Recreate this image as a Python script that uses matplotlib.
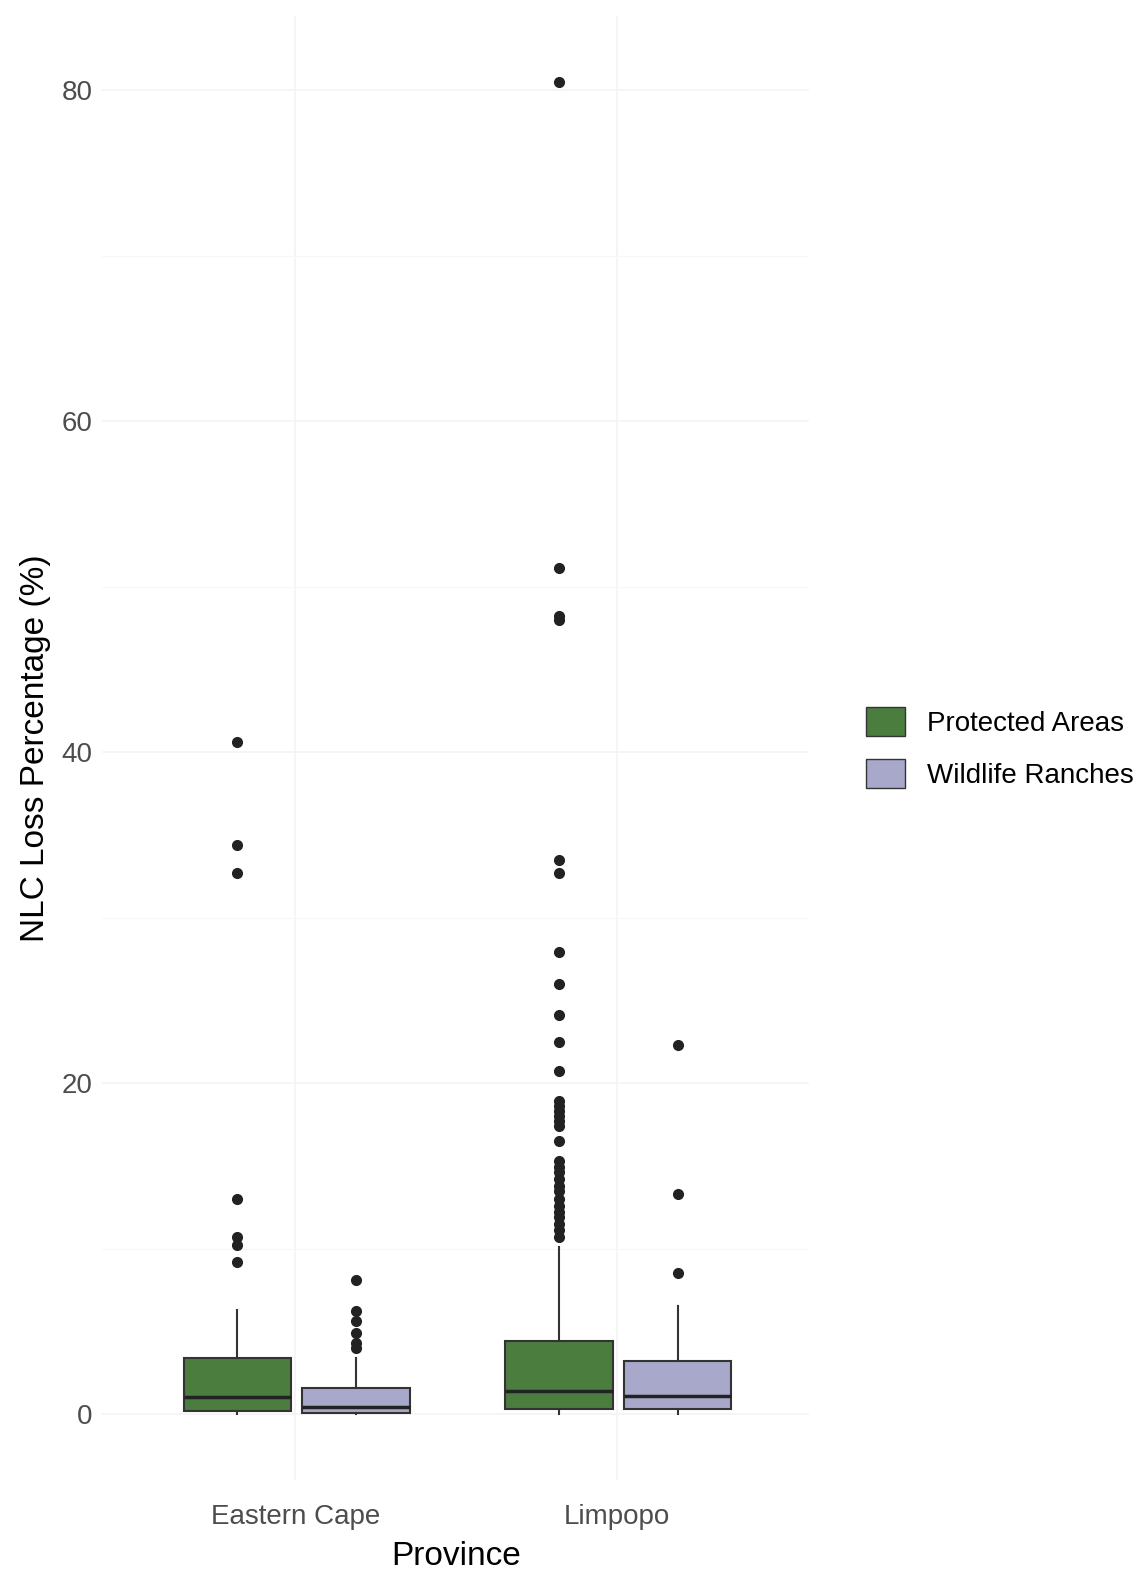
import matplotlib.pyplot as plt
from matplotlib.patches import Patch

plt.rcParams['font.family'] = ['Liberation Sans', 'DejaVu Sans']

# provinces and groups
provinces = ["Eastern Cape", "Limpopo"]
groups = ["Protected Areas", "Wildlife Ranches"]
colors = ["#4b7d3f", "#a8a8cb"]

# box stats: [EC, Limpopo] for each group
q1 = {"Protected Areas": [0.2, 0.3], "Wildlife Ranches": [0.05, 0.3]}
med = {"Protected Areas": [1.0, 1.4], "Wildlife Ranches": [0.4, 1.1]}
q3 = {"Protected Areas": [3.4, 4.4], "Wildlife Ranches": [1.6, 3.2]}
whislo = {"Protected Areas": [0.0, 0.0], "Wildlife Ranches": [0.0, 0.0]}
whishi = {"Protected Areas": [6.3, 10.1], "Wildlife Ranches": [3.4, 6.5]}
fliers = {
    "Protected Areas": [
        [40.6, 34.4, 32.7, 13.0, 10.7, 10.2, 9.2],
        [80.5, 51.1, 48.2, 48.0, 33.5, 32.7, 27.9, 26.0, 24.1, 22.5, 20.7,
         18.9, 18.6, 18.3, 18.0, 17.7, 17.4, 16.5, 15.3, 14.9, 14.6, 14.2,
         13.8, 13.5, 13.0, 12.6, 12.2, 11.9, 11.5, 11.1, 10.7],
    ],
    "Wildlife Ranches": [
        [8.1, 6.2, 5.6, 4.9, 4.3, 4.0],
        [22.3, 13.3, 8.5],
    ],
}

fig = plt.figure(figsize=(11.44, 15.73), dpi=100)
ax = fig.add_axes([0.0895, 0.059, 0.618, 0.931])

offsets = [-0.18, 0.19]
for gi, g in enumerate(groups):
    stats = []
    for pi in range(len(provinces)):
        stats.append({
            "q1": q1[g][pi], "med": med[g][pi], "q3": q3[g][pi],
            "whislo": whislo[g][pi], "whishi": whishi[g][pi],
            "fliers": fliers[g][pi],
        })
    pos = [pi + 1 + offsets[gi] for pi in range(len(provinces))]
    ax.bxp(stats, positions=pos, widths=0.335, patch_artist=True,
           showcaps=False,
           boxprops=dict(facecolor=colors[gi], edgecolor="#333333", linewidth=1.5),
           medianprops=dict(color="#222222", linewidth=2.5),
           whiskerprops=dict(color="#333333", linewidth=1.5),
           flierprops=dict(marker="o", markerfacecolor="#222222",
                           markeredgecolor="#222222", markersize=7))

ax.set_xlim(0.4, 2.6)
ax.set_ylim(-4.0, 84.5)
ax.set_xticks([1, 2])
ax.set_xticklabels(provinces)
ax.set_yticks([0, 20, 40, 60, 80])
ax.set_yticks([10, 30, 50, 70], minor=True)
ax.grid(True, which="major", color="#f3f3f3", linewidth=1.2)
ax.grid(True, which="minor", axis="y", color="#f7f7f7", linewidth=0.8)
ax.set_axisbelow(True)
for s in ax.spines.values():
    s.set_visible(False)
ax.tick_params(axis="both", which="both", length=0, labelsize=20,
               labelcolor="#4d4d4d")
ax.tick_params(axis="x", pad=17)
ax.tick_params(axis="y", pad=7)
ax.set_xlabel("Province", fontsize=24, labelpad=8)
ax.set_ylabel("NLC Loss Percentage (%)", fontsize=24, labelpad=8)

handles = [Patch(facecolor=colors[i], edgecolor="#333333", label=groups[i])
           for i in range(2)]
fig.legend(handles=handles, loc="center left", bbox_to_anchor=(0.735, 0.5245),
           frameon=False, fontsize=20, handlelength=1.4, handleheight=1.2,
           handletextpad=0.8, labelspacing=0.8)

fig.savefig("out.png", dpi=100, facecolor="white")
